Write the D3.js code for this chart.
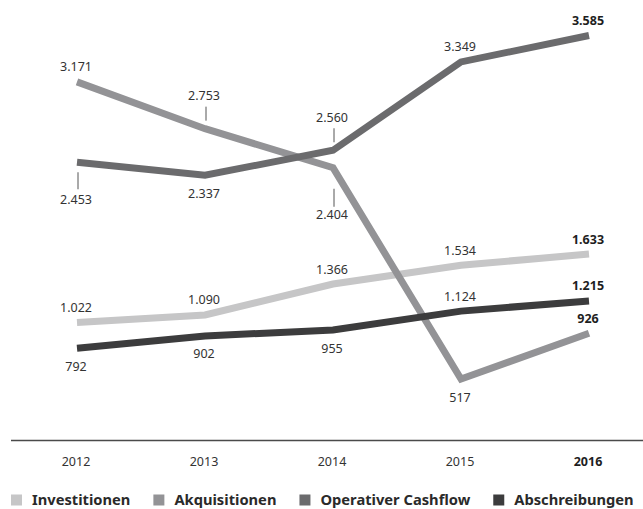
<!DOCTYPE html>
<html>
<head>
<meta charset="utf-8">
<script src="https://cdn.jsdelivr.net/npm/d3@7"></script>
<style>
  html, body { margin: 0; padding: 0; background: #fff; }
  svg { display: block; }
  text { font-family: "Noto Sans", "Open Sans", sans-serif; }
</style>
</head>
<body>
<svg id="chart" width="643" height="509"></svg>
<script>
// Jahre und Kennzahlen (Mio. EUR)
const years = ["2012", "2013", "2014", "2015", "2016"];
const investitionen = [1022, 1090, 1366, 1534, 1633];
const akquisitionen = [3171, 2753, 2404, 517, 926];
const operativerCashflow = [2453, 2337, 2560, 3349, 3585];
const abschreibungen = [792, 902, 955, 1124, 1215];

// Beschriftungsposition je Wert: a = oben, b = unten, ta/tb = mit Hinweisstrich
const investitionenLabel = ["a", "a", "a", "a", "a"];
const akquisitionenLabel = ["a", "ta", "tbl", "b", "a"];
const operativerCashflowLabel = ["tb", "b", "ta", "a", "a"];
const abschreibungenLabel = ["b", "b", "b", "a", "a"];

const series = [
  { name: "Investitionen", values: investitionen, labels: investitionenLabel, color: "#c6c6c7" },
  { name: "Akquisitionen", values: akquisitionen, labels: akquisitionenLabel, color: "#939396" },
  { name: "Operativer Cashflow", values: operativerCashflow, labels: operativerCashflowLabel, color: "#6b6b6d" },
  { name: "Abschreibungen", values: abschreibungen, labels: abschreibungenLabel, color: "#3c3c3d" }
];

// Abstände der Beschriftung (Textmitte) und Hinweisstriche relativ zum Punkt
const placement = {
  a:   { text: -15 },
  b:   { text: 18 },
  ta:  { text: -33, tick: [-22, -8] },
  tb:  { text: 37, tick: [10, 27] },
  tbl: { text: 47, tick: [21, 39] }
};

const svg = d3.select("#chart");
const fmt = v => d3.format(",")(v).replace(/,/g, ".");

const x = d3.scalePoint().domain(years).range([77, 589]);
const y = d3.scaleLinear().domain([0, 4000]).range([437, -11]);

const line = d3.line()
  .x((d, i) => x(years[i]))
  .y(d => y(d))
  .curve(d3.curveLinear);

// Linien
svg.append("g")
  .selectAll("path")
  .data(series)
  .join("path")
  .attr("d", s => line(s.values))
  .attr("fill", "none")
  .attr("stroke", s => s.color)
  .attr("stroke-width", 7)
  .attr("stroke-linejoin", "miter")
  .attr("stroke-linecap", "butt");

// Wertbeschriftungen
const lastYear = years[years.length - 1];
const labelData = series.flatMap(s => s.values.map((v, i) => ({
  year: years[i], value: v, pos: placement[s.labels[i]]
})));

const lg = svg.append("g");
lg.selectAll("line")
  .data(labelData.filter(d => d.pos.tick))
  .join("line")
  .attr("x1", d => x(d.year) + 1)
  .attr("x2", d => x(d.year) + 1)
  .attr("y1", d => y(d.value) + d.pos.tick[0])
  .attr("y2", d => y(d.value) + d.pos.tick[1])
  .attr("stroke", "#555")
  .attr("stroke-width", 1);

lg.selectAll("text")
  .data(labelData)
  .join("text")
  .attr("x", d => x(d.year) - 1)
  .attr("y", d => y(d.value) + d.pos.text)
  .attr("dy", "0.36em")
  .attr("text-anchor", "middle")
  .attr("font-size", 12.5)
  .attr("font-weight", d => d.year === lastYear ? 700 : 400)
  .attr("fill", d => d.year === lastYear ? "#1e1e1e" : "#333")
  .text(d => fmt(d.value));

// x-Achse
const axisY = 440.5;
svg.append("line")
  .attr("x1", 11).attr("x2", 643)
  .attr("y1", axisY).attr("y2", axisY)
  .attr("stroke", "#4a4a4a")
  .attr("stroke-width", 1.5);

svg.append("g")
  .selectAll("text")
  .data(years)
  .join("text")
  .attr("x", d => x(d) - 1)
  .attr("y", 461)
  .attr("dy", "0.36em")
  .attr("text-anchor", "middle")
  .attr("font-size", 12.5)
  .attr("font-weight", d => d === lastYear ? 700 : 400)
  .attr("fill", d => d === lastYear ? "#1e1e1e" : "#333")
  .text(d => d);

// Legende
const legend = svg.append("g");
let lx = 11;
series.forEach(s => {
  const item = legend.append("g").attr("transform", `translate(${lx},0)`);
  item.append("rect")
    .attr("x", 0).attr("y", 494.5)
    .attr("width", 11).attr("height", 11)
    .attr("fill", s.color);
  const t = item.append("text")
    .attr("x", 21).attr("y", 500)
    .attr("dy", "0.36em")
    .attr("font-size", 14.7)
    .attr("font-weight", 700)
    .attr("fill", "#2a2a2a")
    .text(s.name);
  lx += 21 + t.node().getComputedTextLength() + 23;
});
</script>
</body>
</html>
